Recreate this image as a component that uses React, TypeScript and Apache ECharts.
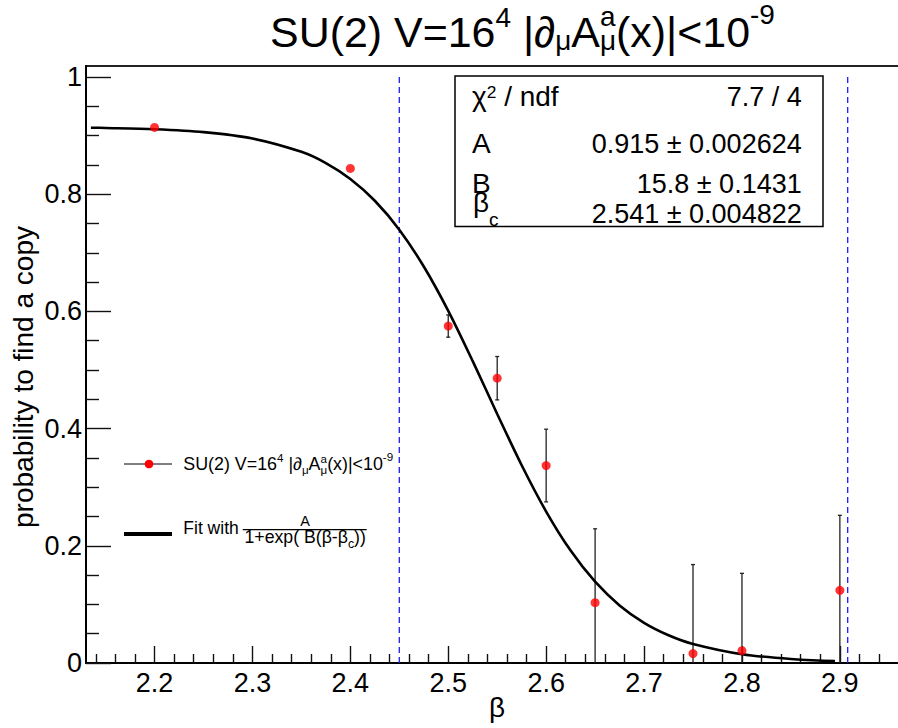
import React, { useEffect, useRef } from "react";
import * as echarts from "echarts";

const FF = '"Liberation Sans", Arial, Helvetica, sans-serif';

// ---- data ----
const betaValues = [2.2, 2.4, 2.5, 2.55, 2.6, 2.65, 2.75, 2.8, 2.9];
const probValues = [0.914, 0.844, 0.575, 0.486, 0.337, 0.103, 0.016, 0.021, 0.124];
const probErrors = [0, 0, 0.019, 0.037, 0.062, 0.126, 0.152, 0.132, 0.128];

const fitBetas = [2.135, 2.15, 2.2, 2.25, 2.3, 2.35, 2.375, 2.4, 2.425, 2.45, 2.475, 2.5, 2.525, 2.55, 2.575, 2.6, 2.625, 2.65, 2.675, 2.7, 2.725, 2.75, 2.8, 2.85, 2.895];
const fitProbs = [0.9135, 0.9131, 0.9108, 0.9059, 0.8951, 0.8723, 0.8531, 0.826, 0.7888, 0.7395, 0.6766, 0.601, 0.5151, 0.425, 0.3375, 0.2585, 0.1918, 0.1387, 0.0983, 0.0686, 0.0474, 0.0325, 0.015, 0.0069, 0.0034];

const cutBetas = [2.45, 2.908];
const cutTop = 1.0;

const xMajorTicks = [2.2, 2.3, 2.4, 2.5, 2.6, 2.7, 2.8, 2.9];
const xMinorTicks = [2.14, 2.16, 2.18, 2.22, 2.24, 2.26, 2.28, 2.32, 2.34, 2.36, 2.38, 2.42, 2.44, 2.46, 2.48, 2.52, 2.54, 2.56, 2.58, 2.62, 2.64, 2.66, 2.68, 2.72, 2.74, 2.76, 2.78, 2.82, 2.84, 2.86, 2.88, 2.92, 2.94];
const yMajorTicks = [0, 0.2, 0.4, 0.6, 0.8, 1];
const yMinorTicks = [0.05, 0.1, 0.15, 0.25, 0.3, 0.35, 0.45, 0.5, 0.55, 0.65, 0.7, 0.75, 0.85, 0.9, 0.95];

const statNames = ["χ2 / ndf", "A", "B", "βc"];
const statValues = ["7.7 / 4", "0.915 ± 0.002624", "15.8 ± 0.1431", "2.541 ± 0.004822"];

const X_MIN = 2.13;
const X_MAX = 2.9604;
const Y_MIN = 0;
const Y_MAX = 1.0188;

type Seg = { t: string; r?: number; dy?: number; stack?: boolean };

function buildText(
  ctx: CanvasRenderingContext2D,
  segs: Seg[],
  x0: number,
  baseline: number,
  size: number,
  targetW?: number,
  anchor: "left" | "right" | "center" = "left"
) {
  const measure = (t: string, s: number) => {
    ctx.font = `${s}px ${FF}`;
    return ctx.measureText(t).width;
  };
  const widthAt = (S: number) => {
    let x = 0;
    let st: number | null = null;
    let sw = 0;
    for (const seg of segs) {
      const w = measure(seg.t, S * (seg.r ?? 1));
      if (seg.stack) {
        st = x;
        sw = w;
      } else if (st != null) {
        x = st + Math.max(sw, w);
        st = null;
      } else x += w;
    }
    return x;
  };
  let S = size;
  if (targetW) S = (size * targetW) / widthAt(size);
  const total = widthAt(S);
  let x = anchor === "left" ? x0 : anchor === "right" ? x0 - total : x0 - total / 2;
  let st: number | null = null;
  let sw = 0;
  const els: any[] = [];
  for (const seg of segs) {
    const s = S * (seg.r ?? 1);
    const w = measure(seg.t, s);
    const bl = baseline + (seg.dy ?? 0) * S;
    els.push({
      type: "text",
      x,
      y: bl - 0.35 * s,
      z: 100,
      style: {
        text: seg.t,
        fontSize: s,
        fontFamily: FF,
        fill: "#000",
        align: "left",
        verticalAlign: "middle",
      },
    });
    if (seg.stack) {
      st = x;
      sw = w;
    } else if (st != null) {
      x = st + Math.max(sw, w);
      st = null;
    } else x += w;
  }
  return els;
}

export default function App() {
  const ref = useRef<HTMLDivElement>(null);

  useEffect(() => {
    if (!ref.current) return;
    const chart = echarts.init(ref.current, null, { renderer: "svg" });
    const canvas = document.createElement("canvas");
    const ctx = canvas.getContext("2d") as CanvasRenderingContext2D;

    const graphics: any[] = [];

    // Title
    graphics.push(
      ...buildText(
        ctx,
        [
          { t: "SU(2) V=16" },
          { t: "4", r: 0.65, dy: -0.46 },
          { t: " |∂" },
          { t: "μ", r: 0.65, dy: 0.07 },
          { t: "A" },
          { t: "a", r: 0.65, dy: -0.48, stack: true },
          { t: "μ", r: 0.65, dy: 0.07 },
          { t: "(x)|<10" },
          { t: "-9", r: 0.65, dy: -0.52 },
        ],
        270,
        47,
        43,
        505
      )
    );

    // Stats box
    graphics.push({
      type: "rect",
      z: 90,
      shape: { x: 455, y: 76, width: 368, height: 150.5 },
      style: { fill: "#fff", stroke: "#000", lineWidth: 1.5 },
    });
    const statBase = [106.7, 153.3, 193.3, 223.3];
    graphics.push(
      ...buildText(ctx, [{ t: statNames[0].slice(0, 1) }, { t: "2", r: 0.62, dy: -0.31 }, { t: statNames[0].slice(2) }], 472, statBase[0], 28)
    );
    graphics.push(...buildText(ctx, [{ t: statNames[1] }], 472, statBase[1], 28));
    graphics.push(...buildText(ctx, [{ t: statNames[2] }], 472, statBase[2], 28));
    graphics.push(
      ...buildText(ctx, [{ t: statNames[3].slice(0, 1) }, { t: statNames[3].slice(1), r: 0.68, dy: 0.5 }], 473, 212, 28)
    );
    statValues.forEach((v, i) => {
      graphics.push(...buildText(ctx, [{ t: v }], 801.7, statBase[i], 27, undefined, "right"));
    });

    // Legend
    graphics.push({
      type: "line",
      z: 100,
      shape: { x1: 124, y1: 464, x2: 172, y2: 464 },
      style: { stroke: "#000", lineWidth: 1 },
    });
    graphics.push({
      type: "circle",
      z: 101,
      shape: { cx: 149, cy: 464, r: 4.3 },
      style: { fill: "#ff0000" },
    });
    graphics.push(
      ...buildText(
        ctx,
        [
          { t: "SU(2) V=16" },
          { t: "4", r: 0.65, dy: -0.45 },
          { t: " |∂" },
          { t: "μ", r: 0.65, dy: 0.2 },
          { t: "A" },
          { t: "a", r: 0.65, dy: -0.42, stack: true },
          { t: "μ", r: 0.65, dy: 0.2 },
          { t: "(x)|<10" },
          { t: "-9", r: 0.65, dy: -0.55 },
        ],
        183.3,
        470,
        16,
        210
      )
    );
    graphics.push({
      type: "line",
      z: 100,
      shape: { x1: 124, y1: 534, x2: 172, y2: 534 },
      style: { stroke: "#000", lineWidth: 4 },
    });
    graphics.push(...buildText(ctx, [{ t: "Fit with" }], 183.3, 534, 17.5));
    graphics.push(...buildText(ctx, [{ t: "A" }], 305, 526.3, 14.5, undefined, "center"));
    graphics.push({
      type: "line",
      z: 100,
      shape: { x1: 242.7, y1: 529.6, x2: 366.7, y2: 529.6 },
      style: { stroke: "#000", lineWidth: 1.4 },
    });
    graphics.push(
      ...buildText(
        ctx,
        [{ t: "1+exp( B(β-β" }, { t: "c", r: 0.7, dy: 0.25 }, { t: "))" }],
        244.5,
        543.5,
        15,
        121.5
      )
    );

    // Axis titles
    graphics.push({
      type: "text",
      x: 23,
      y: 377,
      rotation: Math.PI / 2,
      z: 100,
      style: {
        text: "probability to find a copy",
        fontSize: 28,
        fontFamily: FF,
        fill: "#000",
        align: "center",
        verticalAlign: "middle",
      },
    });
    graphics.push(...buildText(ctx, [{ t: "β" }], 497, 717, 28, undefined, "center"));

    const axisLabelStyle = {
      fontSize: 27,
      fontFamily: FF,
      color: "#000",
    };

    const option: any = {
      animation: false,
      backgroundColor: "#fff",
      grid: {
        left: 86,
        top: 66,
        width: 813,
        height: 597,
        show: true,
        borderColor: "#222",
        borderWidth: 2,
        backgroundColor: "transparent",
        containLabel: false,
        outerBoundsMode: "none",
      },
      xAxis: [
        {
          type: "value",
          min: X_MIN,
          max: X_MAX,
          position: "bottom",
          axisLine: { show: true, onZero: false, lineStyle: { color: "#000", width: 2 } },
          axisTick: { show: true, inside: true, length: 17, customValues: xMajorTicks, lineStyle: { color: "#111", width: 1.4 } },
          axisLabel: {
            ...axisLabelStyle,
            margin: 6,
            customValues: xMajorTicks,
            formatter: (v: number) => v.toFixed(1),
          },
          splitLine: { show: false },
        },
        {
          type: "value",
          min: X_MIN,
          max: X_MAX,
          position: "bottom",
          axisLine: { show: false, onZero: false },
          axisTick: { show: true, inside: true, length: 9, customValues: xMinorTicks, lineStyle: { color: "#111", width: 1.4 } },
          axisLabel: { show: false },
          splitLine: { show: false },
        },
      ],
      yAxis: [
        {
          type: "value",
          min: Y_MIN,
          max: Y_MAX,
          position: "left",
          axisLine: { show: true, onZero: false, lineStyle: { color: "#000", width: 2 } },
          axisTick: { show: true, inside: true, length: 25, customValues: yMajorTicks, lineStyle: { color: "#111", width: 1.4 } },
          axisLabel: {
            ...axisLabelStyle,
            margin: 4,
            customValues: yMajorTicks,
            formatter: (v: number) => (v === 0 || v === 1 ? String(v) : v.toFixed(1)),
          },
          splitLine: { show: false },
        },
        {
          type: "value",
          min: Y_MIN,
          max: Y_MAX,
          position: "left",
          axisLine: { show: false, onZero: false },
          axisTick: { show: true, inside: true, length: 13, customValues: yMinorTicks, lineStyle: { color: "#111", width: 1.4 } },
          axisLabel: { show: false },
          splitLine: { show: false },
        },
      ],
      series: [
        ...cutBetas.map((b) => ({
          type: "line",
          xAxisIndex: 0,
          yAxisIndex: 0,
          data: [
            [b, 0],
            [b, cutTop],
          ],
          showSymbol: false,
          symbol: "none",
          z: 2,
          lineStyle: { color: "#1a1aff", width: 1.3, type: [6, 4] },
          silent: true,
        })),
        {
          type: "custom",
          xAxisIndex: 0,
          yAxisIndex: 0,
          z: 3,
          data: betaValues.map((b, i) => [b, Math.max(0, probValues[i] - probErrors[i]), probValues[i] + probErrors[i]]),
          encode: { x: 0, y: [1, 2] },
          renderItem: (params: any, api: any) => {
            const x = api.value(0);
            const lo = api.value(1);
            const hi = api.value(2);
            if (hi - lo < 1e-6) return { type: "group", children: [] };
            const p1 = api.coord([x, lo]);
            const p2 = api.coord([x, hi]);
            const st = { stroke: "#222", lineWidth: 1.3 };
            const children: any[] = [
              { type: "line", shape: { x1: p1[0], y1: p1[1], x2: p2[0], y2: p2[1] }, style: st },
              { type: "line", shape: { x1: p2[0] - 2, y1: p2[1], x2: p2[0] + 2, y2: p2[1] }, style: st },
            ];
            if (lo > 0) children.push({ type: "line", shape: { x1: p1[0] - 2, y1: p1[1], x2: p1[0] + 2, y2: p1[1] }, style: st });
            return { type: "group", children };
          },
        },
        {
          type: "line",
          xAxisIndex: 0,
          yAxisIndex: 0,
          z: 4,
          data: fitBetas.map((b, i) => [b, fitProbs[i]]),
          showSymbol: false,
          symbol: "none",
          smooth: 0.3,
          lineStyle: { color: "#000", width: 2.6 },
        },
        {
          type: "scatter",
          xAxisIndex: 0,
          yAxisIndex: 0,
          z: 5,
          data: betaValues.map((b, i) => [b, probValues[i]]),
          symbol: "circle",
          symbolSize: 9,
          itemStyle: { color: "#ff0000" },
        },
      ],
      graphic: graphics,
    };

    chart.setOption(option);
    return () => {
      chart.dispose();
    };
  }, []);

  return (
    <div
      ref={ref}
      style={{ position: "fixed", left: 0, top: 0, width: 898, height: 728, background: "#fff" }}
    />
  );
}
